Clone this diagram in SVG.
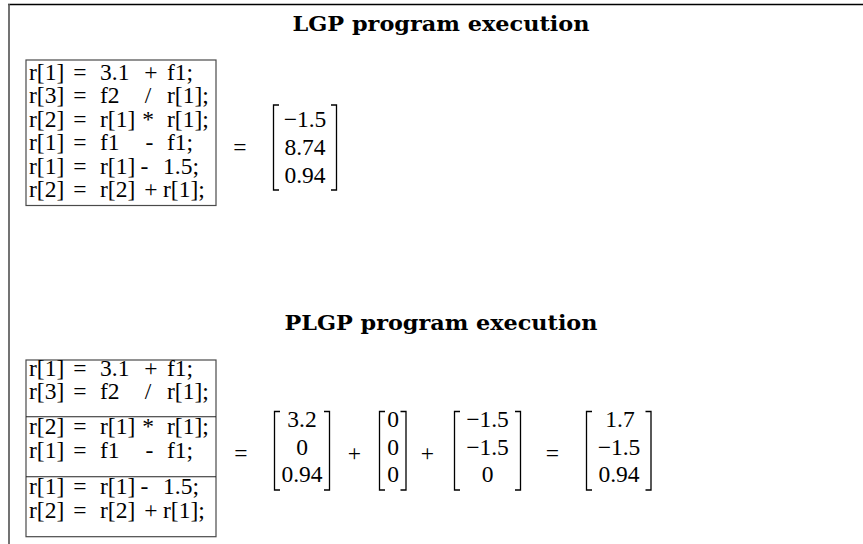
<svg xmlns="http://www.w3.org/2000/svg" width="863" height="544" viewBox="0 0 863 544">
  <style>
    .bg { fill: #ffffff; }
    .title { font-family: "DejaVu Serif", "Liberation Serif", serif; font-weight: bold; font-size: 20px; fill: #000; text-anchor: middle; }
    .code { font-family: "Liberation Serif", "Times New Roman", serif; font-size: 23.5px; fill: #000; }
    .mid { text-anchor: middle; }
    .num { font-family: "Liberation Serif", "Times New Roman", serif; font-size: 23.5px; fill: #000; text-anchor: middle; }
    .box { fill: none; stroke: #4a4a4a; stroke-width: 1.2; }
    .sep { fill: none; stroke: #222; stroke-width: 1.1; }
    .brk { fill: none; stroke: #000; stroke-width: 1.3; }
  </style>

  <rect class="bg" x="0" y="0" width="863" height="544"/>

  <!-- page frame: top rule and left rule -->
  <g id="frame">
    <line x1="8" y1="4.5" x2="863" y2="4.5" stroke="#000" stroke-width="1.3"/>
    <line x1="9" y1="4" x2="9" y2="544" stroke="#5a5a5a" stroke-width="1.7"/>
  </g>

  <!-- ===== LGP ===== -->
  <g id="lgp-title">
    <text class="title" x="441" y="31" textLength="297" lengthAdjust="spacingAndGlyphs">LGP program execution</text>
  </g>

  <g id="lgp-program">
    <rect class="box" x="26" y="60" width="190" height="145.5"/>
    <!-- row 1 -->
    <text class="code" x="29" y="80">r[1]</text>
    <text class="code mid" x="80" y="80">=</text>
    <text class="code" x="100" y="80">3.1</text>
    <text class="code mid" x="151" y="80">+</text>
    <text class="code" x="167" y="80">f1;</text>
    <!-- row 2 -->
    <text class="code" x="29" y="103.4">r[3]</text>
    <text class="code mid" x="80" y="103.4">=</text>
    <text class="code" x="100" y="103.4">f2</text>
    <text class="code mid" x="148" y="103.4">/</text>
    <text class="code" x="167" y="103.4">r[1];</text>
    <!-- row 3 -->
    <text class="code" x="29" y="126.8">r[2]</text>
    <text class="code mid" x="80" y="126.8">=</text>
    <text class="code" x="100" y="126.8">r[1]</text>
    <text class="code mid" x="148" y="126.8">*</text>
    <text class="code" x="167" y="126.8">r[1];</text>
    <!-- row 4 -->
    <text class="code" x="29" y="150.2">r[1]</text>
    <text class="code mid" x="80" y="150.2">=</text>
    <text class="code" x="100" y="150.2">f1</text>
    <text class="code mid" x="149.5" y="150.2">-</text>
    <text class="code" x="167" y="150.2">f1;</text>
    <!-- row 5 -->
    <text class="code" x="29" y="173.6">r[1]</text>
    <text class="code mid" x="80" y="173.6">=</text>
    <text class="code" x="100" y="173.6">r[1]</text>
    <text class="code mid" x="144.5" y="173.6">-</text>
    <text class="code" x="163" y="173.6">1.5;</text>
    <!-- row 6 -->
    <text class="code" x="29" y="197">r[2]</text>
    <text class="code mid" x="80" y="197">=</text>
    <text class="code" x="100" y="197">r[2]</text>
    <text class="code mid" x="151" y="197">+</text>
    <text class="code" x="163" y="197">r[1];</text>
  </g>

  <g id="lgp-result">
    <text class="num" x="240" y="155">=</text>
    <path class="brk" d="M279,105 H273.5 V190 H279"/>
    <path class="brk" d="M331,105 H336.5 V190 H331"/>
    <text class="num" x="305" y="126.5">−1.5</text>
    <text class="num" x="305" y="154.5">8.74</text>
    <text class="num" x="305" y="182.5">0.94</text>
  </g>

  <!-- ===== PLGP ===== -->
  <g id="plgp-title">
    <text class="title" x="441" y="330" textLength="313" lengthAdjust="spacingAndGlyphs">PLGP program execution</text>
  </g>

  <g id="plgp-program">
    <rect class="box" x="26" y="360" width="190" height="176.7"/>
    <line class="sep" x1="26" y1="416.7" x2="216" y2="416.7"/>
    <line class="sep" x1="26" y1="476.7" x2="216" y2="476.7"/>
    <!-- row 1 -->
    <text class="code" x="29" y="376">r[1]</text>
    <text class="code mid" x="80" y="376">=</text>
    <text class="code" x="100" y="376">3.1</text>
    <text class="code mid" x="151" y="376">+</text>
    <text class="code" x="167" y="376">f1;</text>
    <!-- row 2 -->
    <text class="code" x="29" y="399.4">r[3]</text>
    <text class="code mid" x="80" y="399.4">=</text>
    <text class="code" x="100" y="399.4">f2</text>
    <text class="code mid" x="148" y="399.4">/</text>
    <text class="code" x="167" y="399.4">r[1];</text>
    <!-- row 3 -->
    <text class="code" x="29" y="434.3">r[2]</text>
    <text class="code mid" x="80" y="434.3">=</text>
    <text class="code" x="100" y="434.3">r[1]</text>
    <text class="code mid" x="148" y="434.3">*</text>
    <text class="code" x="167" y="434.3">r[1];</text>
    <!-- row 4 -->
    <text class="code" x="29" y="457.7">r[1]</text>
    <text class="code mid" x="80" y="457.7">=</text>
    <text class="code" x="100" y="457.7">f1</text>
    <text class="code mid" x="149.5" y="457.7">-</text>
    <text class="code" x="167" y="457.7">f1;</text>
    <!-- row 5 -->
    <text class="code" x="29" y="494.3">r[1]</text>
    <text class="code mid" x="80" y="494.3">=</text>
    <text class="code" x="100" y="494.3">r[1]</text>
    <text class="code mid" x="144.5" y="494.3">-</text>
    <text class="code" x="163" y="494.3">1.5;</text>
    <!-- row 6 -->
    <text class="code" x="29" y="517.7">r[2]</text>
    <text class="code mid" x="80" y="517.7">=</text>
    <text class="code" x="100" y="517.7">r[2]</text>
    <text class="code mid" x="151" y="517.7">+</text>
    <text class="code" x="163" y="517.7">r[1];</text>
  </g>

  <g id="plgp-sum">
    <text class="num" x="241" y="460.5">=</text>
    <!-- first partial vector -->
    <path class="brk" d="M280,411.5 H274.5 V490 H280"/>
    <path class="brk" d="M324,411.5 H329.5 V490 H324"/>
    <text class="num" x="302" y="427">3.2</text>
    <text class="num" x="302" y="455">0</text>
    <text class="num" x="302" y="482">0.94</text>
    <text class="num" x="354.5" y="461">+</text>
    <!-- second partial vector -->
    <path class="brk" d="M385,411.5 H379.5 V490 H385"/>
    <path class="brk" d="M400.5,411.5 H406 V490 H400.5"/>
    <text class="num" x="393" y="427">0</text>
    <text class="num" x="393" y="455">0</text>
    <text class="num" x="393" y="482">0</text>
    <text class="num" x="427.5" y="461">+</text>
    <!-- third partial vector -->
    <path class="brk" d="M460,411.5 H454.5 V490 H460"/>
    <path class="brk" d="M515,411.5 H520.5 V490 H515"/>
    <text class="num" x="487.5" y="427">−1.5</text>
    <text class="num" x="487.5" y="455">−1.5</text>
    <text class="num" x="487.5" y="482">0</text>
    <text class="num" x="552.5" y="460.5">=</text>
    <!-- summed result -->
    <path class="brk" d="M592,411.5 H586.5 V490 H592"/>
    <path class="brk" d="M645.5,411.5 H651 V490 H645.5"/>
    <text class="num" x="620" y="427">1.7</text>
    <text class="num" x="619" y="455">−1.5</text>
    <text class="num" x="619" y="482">0.94</text>
  </g>
</svg>
